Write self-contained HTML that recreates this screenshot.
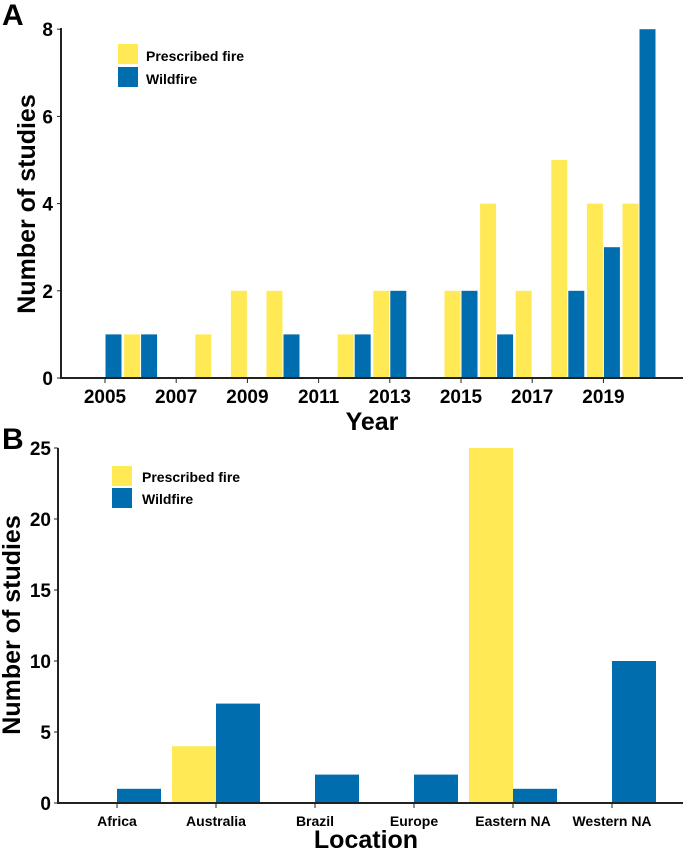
<!DOCTYPE html>
<html><head><meta charset="utf-8"><style>
html,body{margin:0;padding:0;background:#fff;}
svg{display:block;font-family:"Liberation Sans",Arial,sans-serif;}
</style></head><body>
<svg id="c" width="685" height="851" viewBox="0 0 685 851">
<text x="2" y="25" font-size="30" font-weight="bold">A</text>
<text x="2" y="449" font-size="30" font-weight="bold">B</text>
<g id="ga"></g>
<g id="gb"></g>
</svg>
<script>
const years=[2005,2006,2007,2008,2009,2010,2011,2012,2013,2014,2015,2016,2017,2018,2019,2020];
const prescribedA=[0,1,0,1,2,2,0,1,2,0,2,4,2,5,4,4];
const wildfireA=[1,1,0,0,0,1,0,1,2,0,2,1,0,2,3,8];
const yTicksA=[0,2,4,6,8];
const xTickLabelsA=[2005,2007,2009,2011,2013,2015,2017,2019];
const locations=["Africa","Australia","Brazil","Europe","Eastern NA","Western NA"];
const prescribedB=[0,4,0,0,25,0];
const wildfireB=[1,7,2,2,1,10];
const yTicksB=[0,5,10,15,20,25];
const YEL="#FFEA55",BLU="#006DAE";
const NS="http://www.w3.org/2000/svg";
function mk(p,tag,at,txt){const e=document.createElementNS(NS,tag);for(const k in at)e.setAttribute(k,at[k]);if(txt!==undefined)e.textContent=txt;p.appendChild(e);return e;}
// Chart A
const ga=document.getElementById('ga');
const xA=y=>105+(y-2005)*35.6, yA=v=>378-v*43.6;
years.forEach((yr,i)=>{
 if(prescribedA[i]>0){const r=mk(ga,'rect',{x:xA(yr)-16.5,y:yA(prescribedA[i]),width:16,height:yA(0)-yA(prescribedA[i]),fill:YEL});
 
 }
 if(wildfireA[i]>0){const r=mk(ga,'rect',{x:xA(yr)+0.5,y:yA(wildfireA[i]),width:16,height:yA(0)-yA(wildfireA[i]),fill:BLU});
 
 }
});
mk(ga,'line',{x1:61,y1:28,x2:61,y2:379,stroke:'#222','stroke-width':2});
mk(ga,'line',{x1:60,y1:378,x2:683,y2:378,stroke:'#222','stroke-width':2});
yTicksA.forEach(v=>{mk(ga,'line',{x1:57,y1:yA(v),x2:61,y2:yA(v),stroke:'#222'});
 const t=mk(ga,'text',{x:53,y:yA(v)+7,'font-size':19,'font-weight':'bold','text-anchor':'end'},v);
 
 });
xTickLabelsA.forEach(v=>{mk(ga,'line',{x1:xA(v),y1:378,x2:xA(v),y2:383,stroke:'#222'});
 const t=mk(ga,'text',{x:xA(v),y:403,'font-size':19,'font-weight':'bold','text-anchor':'middle'},v);
 
 });
const xta=mk(ga,'text',{x:372,y:430,'font-size':25,'font-weight':'bold','text-anchor':'middle'},'Year');


const yta=mk(ga,'text',{x:0,y:0,'font-size':25,'font-weight':'bold','text-anchor':'middle',transform:'translate(35,204) rotate(-90)'},'Number of studies');


mk(ga,'rect',{x:118,y:44,width:20,height:20,fill:YEL});
mk(ga,'rect',{x:118,y:67,width:20,height:20,fill:BLU});
const l1=mk(ga,'text',{x:146,y:61,'font-size':14,'font-weight':'bold'},'Prescribed fire');


const l2=mk(ga,'text',{x:146,y:84,'font-size':14,'font-weight':'bold'},'Wildfire');


// Chart B
const gb=document.getElementById('gb');
const xB=i=>117+i*99, yB=v=>803-v*14.2;
locations.forEach((loc,i)=>{
 if(prescribedB[i]>0){const r=mk(gb,'rect',{x:xB(i)-44,y:yB(prescribedB[i]),width:44,height:yB(0)-yB(prescribedB[i]),fill:YEL});
 
 }
 if(wildfireB[i]>0){const r=mk(gb,'rect',{x:xB(i),y:yB(wildfireB[i]),width:44,height:yB(0)-yB(wildfireB[i]),fill:BLU});
 
 }
 mk(gb,'line',{x1:xB(i),y1:803,x2:xB(i),y2:808,stroke:'#222'});
 const t=mk(gb,'text',{x:xB(i),y:826,'font-size':14,'font-weight':'bold','text-anchor':'middle'},loc);
 
 
});
mk(gb,'line',{x1:58,y1:448,x2:58,y2:804,stroke:'#222','stroke-width':2});
mk(gb,'line',{x1:57,y1:803,x2:683,y2:803,stroke:'#222','stroke-width':2});
yTicksB.forEach(v=>{mk(gb,'line',{x1:54,y1:yB(v),x2:58,y2:yB(v),stroke:'#222'});
 const t=mk(gb,'text',{x:51,y:yB(v)+7,'font-size':19,'font-weight':'bold','text-anchor':'end'},v);
 
 });
const xtb=mk(gb,'text',{x:366,y:848,'font-size':25,'font-weight':'bold','text-anchor':'middle'},'Location');


const ytb=mk(gb,'text',{x:0,y:0,'font-size':25,'font-weight':'bold','text-anchor':'middle',transform:'translate(20,625) rotate(-90)'},'Number of studies');


mk(gb,'rect',{x:112,y:466,width:20,height:20,fill:YEL});
mk(gb,'rect',{x:112,y:488,width:20,height:20,fill:BLU});
const l3=mk(gb,'text',{x:142,y:482,'font-size':14,'font-weight':'bold'},'Prescribed fire');


const l4=mk(gb,'text',{x:142,y:504,'font-size':14,'font-weight':'bold'},'Wildfire');


</script>
</body></html>
